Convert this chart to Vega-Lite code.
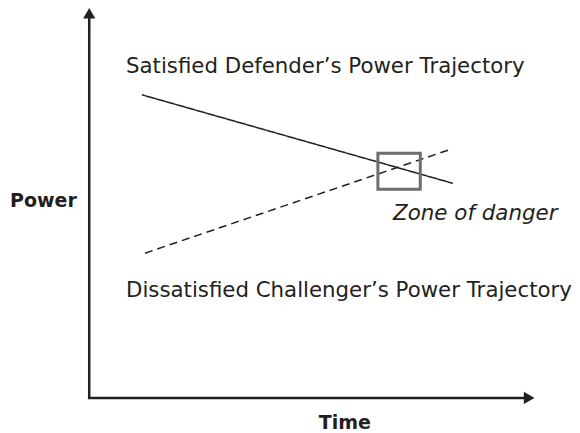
{
  "$schema": "https://vega.github.io/schema/vega-lite/v6.json",
  "width": 580,
  "height": 433,
  "padding": 0,
  "autosize": {"type": "fit", "contains": "padding"},
  "background": "white",
  "config": {"view": {"stroke": null}},
  "datasets": {
    "axes": [
      {"t1": 0, "p1": -0.3, "t2": 0, "p2": 97.5},
      {"t1": -0.3, "p1": 0, "t2": 97.5, "p2": 0}
    ],
    "arrows": [
      {"t": 0, "p": 98.6, "dir": "up"},
      {"t": 98.6, "p": 0, "dir": "right"}
    ],
    "trajectories": [
      {"series": "Satisfied Defender", "time": 11.8, "power": 77.7},
      {"series": "Satisfied Defender", "time": 81.5, "power": 55.0},
      {"series": "Dissatisfied Challenger", "time": 12.5, "power": 37.1},
      {"series": "Dissatisfied Challenger", "time": 81.2, "power": 63.8}
    ],
    "zone": [
      {"t1": 64.7, "t2": 74.2, "p1": 53.5, "p2": 62.7}
    ],
    "labels": [
      {"label": "Satisfied Defender’s Power Trajectory", "t": 8.24, "p": 83.4, "style": "normal"},
      {"label": "Dissatisfied Challenger’s Power Trajectory", "t": 8.24, "p": 25.9, "style": "normal"},
      {"label": "Power", "t": -17.76, "p": 49.0, "style": "bold"},
      {"label": "Zone of danger", "t": 68.1, "p": 45.6, "style": "italic"},
      {"label": "Time", "t": 57.3, "p": -7.9, "style": "boldcenter"}
    ]
  },
  "layer": [
    {
      "data": {"name": "axes"},
      "mark": {"type": "rule", "color": "#231f20", "strokeWidth": 2.5},
      "encoding": {
        "x": {"field": "t1", "type": "quantitative", "scale": {"domain": [-20, 110], "nice": false, "zero": false}, "axis": null},
        "y": {"field": "p1", "type": "quantitative", "scale": {"domain": [-9, 102], "nice": false, "zero": false}, "axis": null},
        "x2": {"field": "t2"},
        "y2": {"field": "p2"}
      }
    },
    {
      "data": {"name": "arrows"},
      "mark": {"type": "point", "filled": true, "color": "#231f20", "opacity": 1, "size": 150},
      "encoding": {
        "x": {"field": "t", "type": "quantitative"},
        "y": {"field": "p", "type": "quantitative"},
        "shape": {"field": "dir", "type": "nominal", "scale": {"domain": ["up", "right"], "range": ["triangle-up", "triangle-right"]}, "legend": null}
      }
    },
    {
      "data": {"name": "trajectories"},
      "mark": {"type": "line", "color": "#231f20", "strokeWidth": 1.5},
      "encoding": {
        "x": {"field": "time", "type": "quantitative"},
        "y": {"field": "power", "type": "quantitative"},
        "detail": {"field": "series"},
        "strokeDash": {"field": "series", "type": "nominal", "scale": {"domain": ["Satisfied Defender", "Dissatisfied Challenger"], "range": [[1, 0], [8, 5]]}, "legend": null}
      }
    },
    {
      "data": {"name": "zone"},
      "mark": {"type": "rect", "fill": null, "fillOpacity": 0, "stroke": "#6d6e71", "strokeWidth": 3},
      "encoding": {
        "x": {"field": "t1", "type": "quantitative"},
        "x2": {"field": "t2"},
        "y": {"field": "p1", "type": "quantitative"},
        "y2": {"field": "p2"}
      }
    },
    {
      "data": {"name": "labels"},
      "transform": [{"filter": "datum.style === 'normal'"}],
      "mark": {"type": "text", "align": "left", "baseline": "alphabetic", "font": "DejaVu Sans", "fontSize": 21.3, "color": "#231f20"},
      "encoding": {
        "x": {"field": "t", "type": "quantitative"},
        "y": {"field": "p", "type": "quantitative"},
        "text": {"field": "label"}
      }
    },
    {
      "data": {"name": "labels"},
      "transform": [{"filter": "datum.style === 'bold'"}],
      "mark": {"type": "text", "align": "left", "baseline": "alphabetic", "font": "DejaVu Sans", "fontSize": 19, "fontWeight": "bold", "color": "#231f20"},
      "encoding": {
        "x": {"field": "t", "type": "quantitative"},
        "y": {"field": "p", "type": "quantitative"},
        "text": {"field": "label"}
      }
    },
    {
      "data": {"name": "labels"},
      "transform": [{"filter": "datum.style === 'boldcenter'"}],
      "mark": {"type": "text", "align": "center", "baseline": "alphabetic", "font": "DejaVu Sans", "fontSize": 19, "fontWeight": "bold", "color": "#231f20"},
      "encoding": {
        "x": {"field": "t", "type": "quantitative"},
        "y": {"field": "p", "type": "quantitative"},
        "text": {"field": "label"}
      }
    },
    {
      "data": {"name": "labels"},
      "transform": [{"filter": "datum.style === 'italic'"}],
      "mark": {"type": "text", "align": "left", "baseline": "alphabetic", "font": "DejaVu Sans", "fontSize": 21.4, "fontStyle": "italic", "color": "#231f20"},
      "encoding": {
        "x": {"field": "t", "type": "quantitative"},
        "y": {"field": "p", "type": "quantitative"},
        "text": {"field": "label"}
      }
    }
  ]
}
